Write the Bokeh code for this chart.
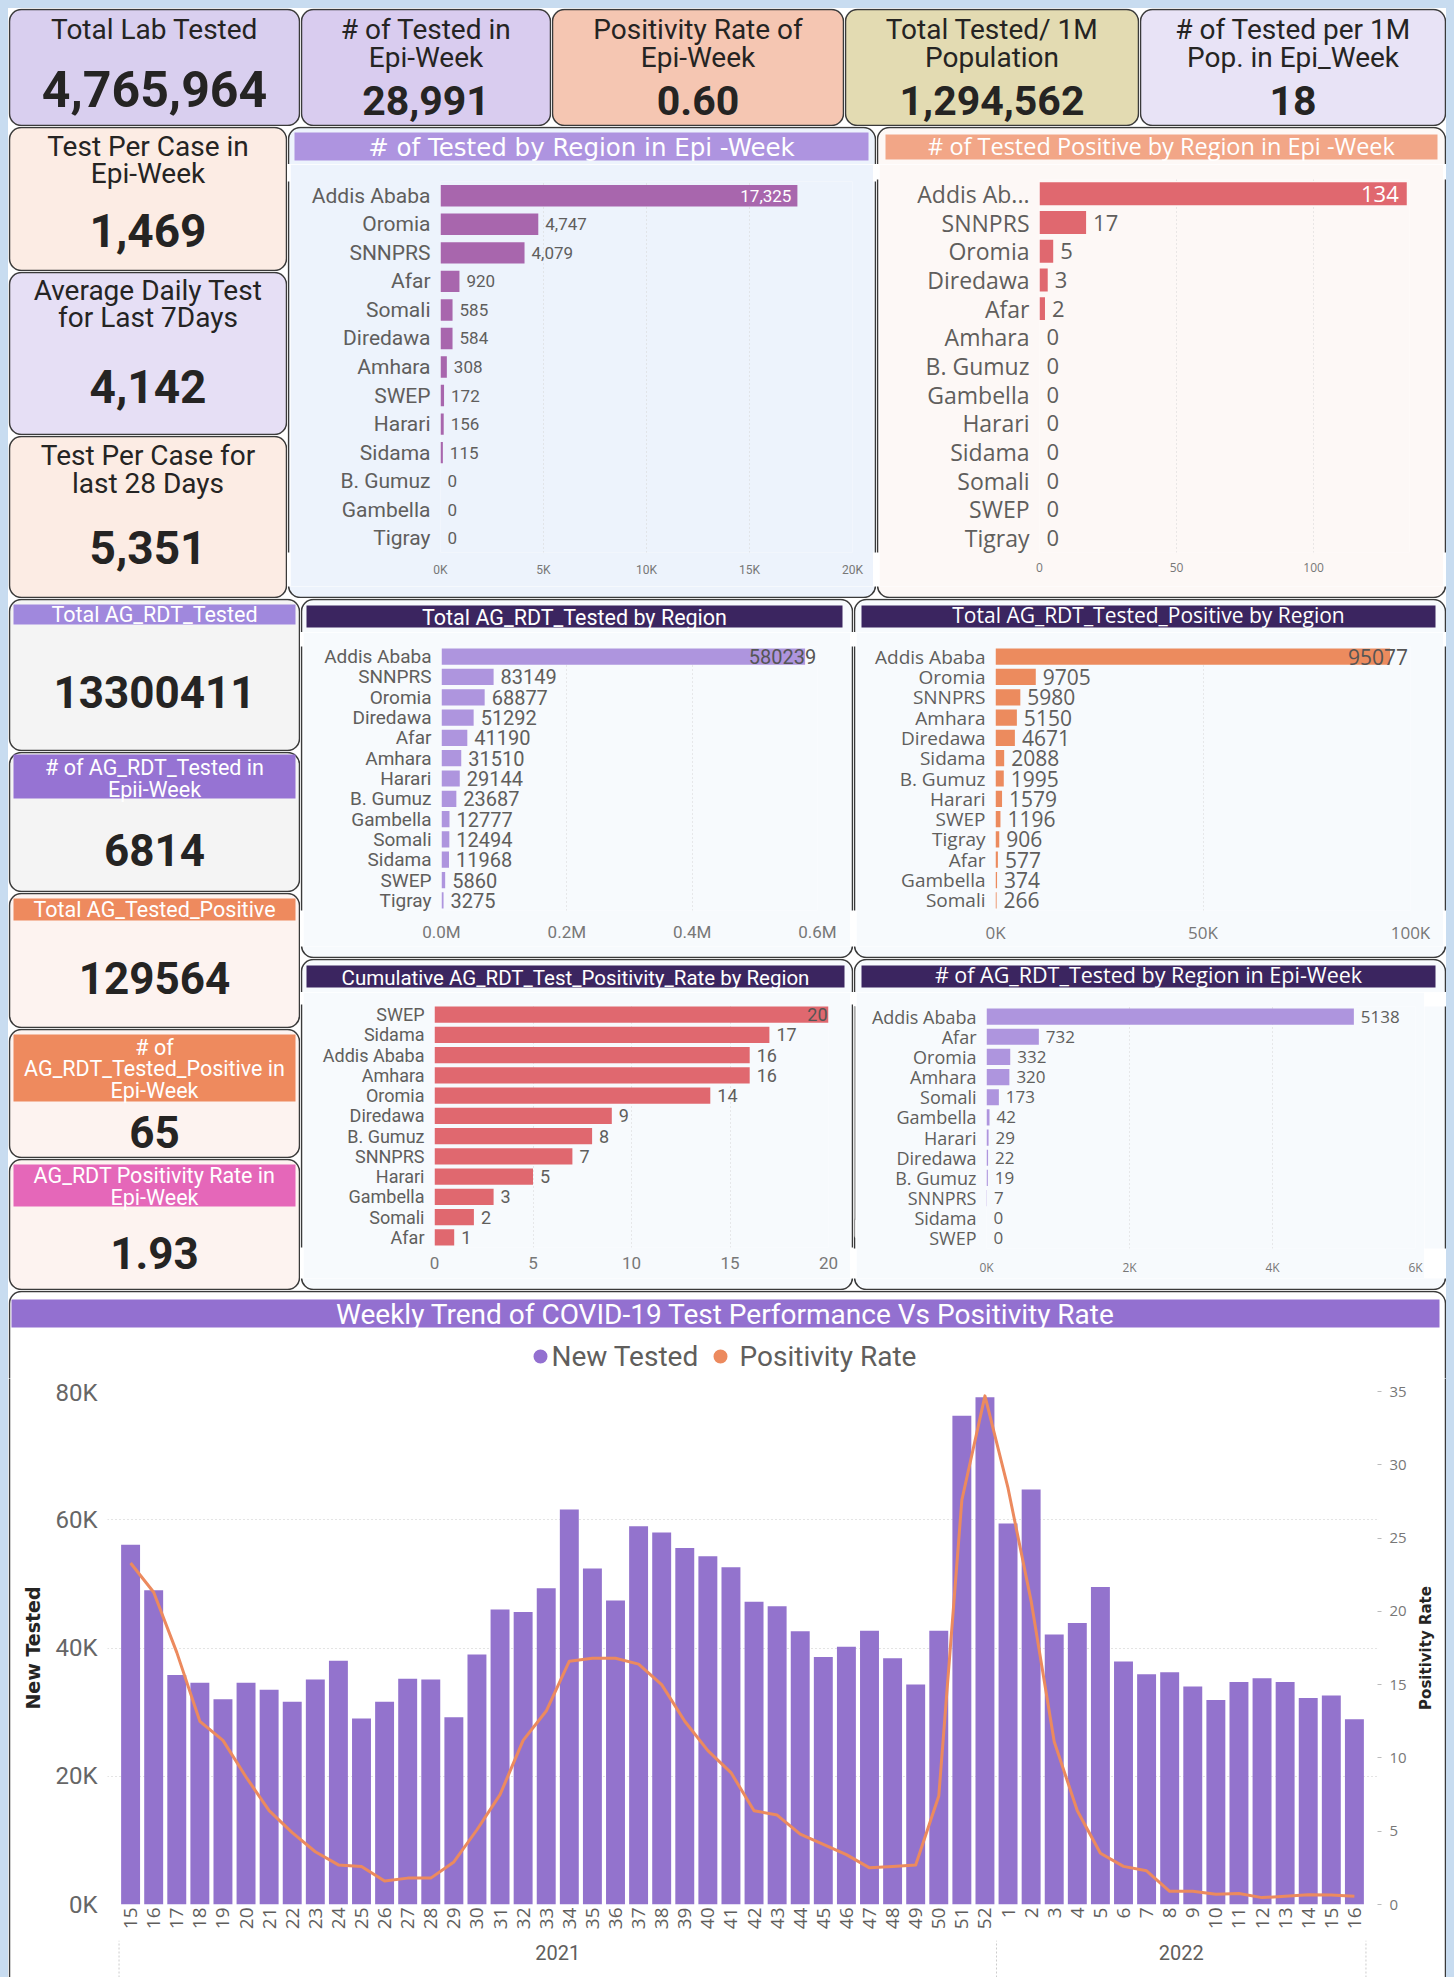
import math
from bokeh.plotting import figure
from bokeh.models import (Range1d, FactorRange, BoxAnnotation, Label, ColumnDataSource,
                          FixedTicker, LinearAxis, Spacer)
from bokeh.layouts import row, column
from bokeh.core.properties import value
from bokeh.embed import file_html
from bokeh.resources import INLINE

# ---------------- KPI cards ----------------
top_titles = [["Total Lab Tested"], ["# of Tested in", "Epi-Week"], ["Positivity Rate of", "Epi-Week"],
              ["Total Tested/ 1M", "Population"], ["# of Tested per 1M", "Pop. in Epi_Week"]]
top_values = ["4,765,964", "28,991", "0.60", "1,294,562", "18"]

left_titles = [["Test Per Case in", "Epi-Week"], ["Average Daily Test", "for Last 7Days"],
               ["Test Per Case for", "last 28 Days"]]
left_values = ["1,469", "4,142", "5,351"]

ag_titles = [["Total AG_RDT_Tested"], ["# of AG_RDT_Tested in", "Epii-Week"], ["Total AG_Tested_Positive"],
             ["# of", "AG_RDT_Tested_Positive in", "Epi-Week"], ["AG_RDT Positivity Rate in", "Epi-Week"]]
ag_values = ["13300411", "6814", "129564", "65", "1.93"]

# ---------------- region charts ----------------
tested_regions = ["Addis Ababa", "Oromia", "SNNPRS", "Afar", "Somali", "Diredawa", "Amhara", "SWEP",
                  "Harari", "Sidama", "B. Gumuz", "Gambella", "Tigray"]
tested_values = [17325, 4747, 4079, 920, 585, 584, 308, 172, 156, 115, 0, 0, 0]
tested_ticks = [0, 5000, 10000, 15000, 20000]
tested_tick_labels = ["0K", "5K", "10K", "15K", "20K"]

pos_regions = ["Addis Ab...", "SNNPRS", "Oromia", "Diredawa", "Afar", "Amhara", "B. Gumuz", "Gambella",
               "Harari", "Sidama", "Somali", "SWEP", "Tigray"]
pos_values = [134, 17, 5, 3, 2, 0, 0, 0, 0, 0, 0, 0, 0]
pos_ticks = [0, 50, 100]
pos_tick_labels = ["0", "50", "100"]

rdt_regions = ["Addis Ababa", "SNNPRS", "Oromia", "Diredawa", "Afar", "Amhara", "Harari", "B. Gumuz",
               "Gambella", "Somali", "Sidama", "SWEP", "Tigray"]
rdt_values = [580239, 83149, 68877, 51292, 41190, 31510, 29144, 23687, 12777, 12494, 11968, 5860, 3275]
rdt_ticks = [0, 200000, 400000, 600000]
rdt_tick_labels = ["0.0M", "0.2M", "0.4M", "0.6M"]

rdtpos_regions = ["Addis Ababa", "Oromia", "SNNPRS", "Amhara", "Diredawa", "Sidama", "B. Gumuz", "Harari",
                  "SWEP", "Tigray", "Afar", "Gambella", "Somali"]
rdtpos_values = [95077, 9705, 5980, 5150, 4671, 2088, 1995, 1579, 1196, 906, 577, 374, 266]
rdtpos_ticks = [0, 50000, 100000]
rdtpos_tick_labels = ["0K", "50K", "100K"]

rate_regions = ["SWEP", "Sidama", "Addis Ababa", "Amhara", "Oromia", "Diredawa", "B. Gumuz", "SNNPRS",
                "Harari", "Gambella", "Somali", "Afar"]
rate_values = [20, 17, 16, 16, 14, 9, 8, 7, 5, 3, 2, 1]
rate_ticks = [0, 5, 10, 15, 20]
rate_tick_labels = ["0", "5", "10", "15", "20"]

wk_regions = ["Addis Ababa", "Afar", "Oromia", "Amhara", "Somali", "Gambella", "Harari", "Diredawa",
              "B. Gumuz", "SNNPRS", "Sidama", "SWEP"]
wk_values = [5138, 732, 332, 320, 173, 42, 29, 22, 19, 7, 0, 0]
wk_ticks = [0, 2000, 4000, 6000]
wk_tick_labels = ["0K", "2K", "4K", "6K"]

# ---------------- weekly trend ----------------
year_labels = ["2021", "2022"]
weeks_2021 = ["15", "16", "17", "18", "19", "20", "21", "22", "23", "24", "25", "26", "27", "28", "29",
              "30", "31", "32", "33", "34", "35", "36", "37", "38", "39", "40", "41", "42", "43", "44",
              "45", "46", "47", "48", "49", "50", "51", "52"]
weeks_2022 = ["1", "2", "3", "4", "5", "6", "7", "8", "9", "10", "11", "12", "13", "14", "15", "16"]
new_tested_2021 = [56100, 49000, 35800, 34600, 32000, 34600, 33500, 31600, 35100, 38000, 29000, 31600,
                   35200, 35100, 29200, 39000, 46000, 45600, 49300, 61600, 52400, 47400, 59000, 58000,
                   55600, 54300, 52600, 47200, 46500, 42600, 38600, 40200, 42700, 38400, 34300, 42700,
                   76200, 79100]
new_tested_2022 = [59400, 64700, 42100, 43900, 49500, 37900, 35900, 36200, 34000, 31900, 34700, 35300,
                   34700, 32200, 32600, 28900]
pos_rate_2021 = [23.3, 21.3, 17.2, 12.5, 11.2, 8.7, 6.4, 4.9, 3.6, 2.7, 2.6, 1.6, 1.8, 1.8, 2.9, 5.1,
                 7.5, 11.2, 13.2, 16.6, 16.8, 16.8, 16.4, 15.0, 12.5, 10.5, 9.0, 6.4, 6.1, 4.8, 4.1, 3.4,
                 2.5, 2.6, 2.7, 7.4, 27.6, 34.7]
pos_rate_2022 = [28.4, 20.7, 11.1, 6.4, 3.5, 2.6, 2.3, 0.9, 0.9, 0.7, 0.75, 0.47, 0.56, 0.66, 0.64, 0.56]
tested_axis_ticks = [0, 20000, 40000, 60000, 80000]
tested_axis_labels = ["0K", "20K", "40K", "60K", "80K"]
rate_axis_ticks = [0, 5, 10, 15, 20, 25, 30, 35]

# ---------------- styling ----------------
DIN = "Roboto"
SEGOE = "Open Sans"
WIDE = "DejaVu Sans"
BORDER = "#3a3a3a"
TXT = "#252423"
GREY = "#605e5c"
DARK = "#3b2560"
PAGE_BG = "#c8dcf0"


def new_tile(w, h, **kw):
    p = figure(width=w, height=h, output_backend="svg", toolbar_location=None, **kw)
    p.border_fill_color = "white"
    p.background_fill_color = None
    p.outline_line_color = None
    return p


def canvas_fig(w, h):
    return new_tile(w, h, x_range=Range1d(0, w), y_range=Range1d(0, h), x_axis_type=None,
                    y_axis_type=None, min_border=0)


def cbox(p, l, t, r, b, fill, line=None, lw=1.5, radius=0, level="annotation"):
    p.add_layout(BoxAnnotation(left=l, right=r, top=t, bottom=b,
                               left_units="canvas", right_units="canvas",
                               top_units="canvas", bottom_units="canvas",
                               fill_color=fill, fill_alpha=1.0 if fill else 0.0,
                               line_color=line, line_alpha=1.0 if line else 0.0, line_width=lw,
                               border_radius=int(radius), level=level))


def ctext(p, x, y, text, font, size, color, style="normal", align="center", baseline="middle", angle=0.0):
    p.add_layout(Label(x=x, y=y, x_units="canvas", y_units="canvas", text=text, text_font=font,
                       text_font_size=f"{size}px", text_color=color, text_font_style=style,
                       text_align=align, text_baseline=baseline, angle=angle))


def kpi(w, h, fill, lines, line_ys, val, val_y, tsize, vsize, band=None, band_color=None, tcolor=TXT):
    p = canvas_fig(w, h)
    cbox(p, 1, 1, w - 1, h - 1, fill, BORDER, 1.5, 12, level="image")
    if band:
        cbox(p, band[0], band[1], band[2], band[3], band_color, None, 0, 0)
    for ln, y in zip(lines, line_ys):
        ctext(p, w / 2, y, ln, DIN, tsize, tcolor)
    ctext(p, w / 2, val_y, val, DIN, vsize, TXT, style="bold")
    return p


def panel(w, h, fill, hdr_h, ftr_h, lw, rw, chart_fn, band, band_color, title, title_font, title_size,
          title_dy=1):
    mid_h = h - hdr_h - ftr_h
    hdr = canvas_fig(w, hdr_h)
    cbox(hdr, 1, 1, w - 1, hdr_h + 30, fill, BORDER, 1.5, 12, level="image")
    cbox(hdr, band[0], band[1], band[2], band[3], band_color, None, 0, 0)
    ctext(hdr, (band[0] + band[2]) / 2, (band[1] + band[3]) / 2 + title_dy, title, title_font, title_size,
          "white")
    ls = canvas_fig(lw, mid_h)
    cbox(ls, 1, -30, lw + 30, mid_h + 30, fill, BORDER, 1.5, 0, level="image")
    rs = canvas_fig(rw, mid_h)
    cbox(rs, -30, -30, rw - 1, mid_h + 30, fill, BORDER, 1.5, 0, level="image")
    ch = chart_fn(w - lw - rw, mid_h)
    parts = [hdr, row(ls, ch, rs)]
    if ftr_h:
        ftr = canvas_fig(w, ftr_h)
        cbox(ftr, 1, -30, w - 1, ftr_h - 1, fill, BORDER, 1.5, 12, level="image")
        parts.append(ftr)
    return column(*parts), hdr, ls, rs, ch


def region_panel(w, h, frame, hdr_h, rw, cats, vals, labels, xmax, ticks, tick_labels, title, band,
                 band_color, title_font, title_size, panel_fill, bar_color, cat_font, cat_size, lbl_font,
                 lbl_size, tick_font, tick_size, tick_standoff, bar_h=0.8, inside_color=None,
                 inside_offset=0, lbl_color=GREY, title_dy=1):
    lw, ftr_h = 3, 12
    fl, ft, fr, fb = frame

    def build(cw, chh):
        p = new_tile(cw, chh, x_range=Range1d(0, xmax), y_range=FactorRange(factors=cats[::-1]),
                     min_border_left=fl - lw, min_border_right=(w - rw) - fr,
                     min_border_top=ft - hdr_h, min_border_bottom=(hdr_h + chh) - fb)
        p.border_fill_color = panel_fill
        p.background_fill_color = panel_fill
        src = ColumnDataSource(dict(cat=cats, val=vals))
        p.hbar(y="cat", left=0, right="val", height=bar_h, source=src, fill_color=bar_color, line_color=None)
        n_in = 1 if inside_color else 0
        out = ColumnDataSource(dict(cat=cats[n_in:], val=vals[n_in:], lbl=labels[n_in:]))
        p.text(x="val", y="cat", text="lbl", source=out, x_offset=7, text_align="left",
               text_baseline="middle", text_font=value(lbl_font), text_font_size=value(f"{lbl_size}px"),
               text_color=lbl_color)
        if n_in:
            ins = ColumnDataSource(dict(cat=cats[:1], val=vals[:1], lbl=labels[:1]))
            p.text(x="val", y="cat", text="lbl", source=ins, x_offset=inside_offset, text_align="right",
                   text_baseline="middle", text_font=value(lbl_font),
                   text_font_size=value(f"{lbl_size}px"), text_color=inside_color)
        ticker = FixedTicker(ticks=ticks)
        p.xaxis.ticker = ticker
        p.xgrid.ticker = ticker
        p.xaxis.major_label_overrides = dict(zip(ticks, tick_labels))
        p.xaxis.axis_line_color = None
        p.xaxis.major_tick_line_color = None
        p.xaxis.minor_tick_line_color = None
        p.xaxis.major_tick_out = 0
        p.xaxis.major_tick_in = 0
        p.xaxis.major_label_standoff = tick_standoff
        p.xaxis.major_label_text_font = tick_font
        p.xaxis.major_label_text_font_size = f"{tick_size}px"
        p.xaxis.major_label_text_color = "#777777"
        p.xgrid.grid_line_color = "#d4d4d4"
        p.xgrid.grid_line_dash = "1 3"
        p.ygrid.grid_line_color = None
        p.yaxis.axis_line_color = None
        p.yaxis.major_tick_line_color = None
        p.yaxis.major_tick_out = 0
        p.yaxis.major_tick_in = 0
        p.yaxis.major_label_standoff = 10
        p.yaxis.major_label_text_font = cat_font
        p.yaxis.major_label_text_font_size = f"{cat_size}px"
        p.yaxis.major_label_text_color = GREY
        return p

    return panel(w, h, panel_fill, hdr_h, ftr_h, lw, rw, build, band, band_color, title, title_font,
                 title_size, title_dy)


# ---------------- row 1 ----------------
top_w = [292, 251, 293, 295, 307]
top_fill = ["#d9cfef", "#d9ccef", "#f5c6b2", "#e3dbb2", "#e8e3f6"]
top_cards = []
for i in range(5):
    if i == 0:
        top_cards.append(kpi(top_w[i], 118, top_fill[i], top_titles[i], [21], top_values[i], 80, 28, 50))
    else:
        top_cards.append(kpi(top_w[i], 118, top_fill[i], top_titles[i], [21, 49], top_values[i], 92, 28, 41))

# ---------------- row 2 ----------------
left2_h = [145, 164, 163]
left2_fill = ["#fcece4", "#e6dff5", "#fcece4"]
left2_ty = [[20, 47], [19, 46], [20, 48]]
left2_vy = [104, 115, 112]
left2 = [kpi(279, left2_h[i], left2_fill[i], left_titles[i], left2_ty[i], left_values[i], left2_vy[i], 28, 46)
         for i in range(3)]

ch1 = region_panel(589, 472, (153, 55, 565, 426), 38, 3, tested_regions, tested_values,
                   [f"{v:,}" for v in tested_values], 20000, tested_ticks, tested_tick_labels,
                   "# of Tested by Region in Epi -Week", (7, 6, 581, 34), "#ae94e0", WIDE, 24.5,
                   "#edf3fc", "#a866ad", DIN, 21, DIN, 17, DIN, 12, 10, bar_h=0.75,
                   inside_color="white", inside_offset=-6)[0]
ch2 = region_panel(570, 472, (163, 53, 533, 426), 38, 3, pos_regions, pos_values,
                   [str(v) for v in pos_values], 135, pos_ticks, pos_tick_labels,
                   "# of Tested Positive by Region in Epi -Week", (9, 8, 561, 33), "#f2a687", SEGOE, 23.5,
                   "#fdf8f6", "#e0686f", SEGOE, 23, SEGOE, 22, SEGOE, 12, 10, bar_h=0.8,
                   inside_color="white", inside_offset=-8, title_dy=-1)[0]

# ---------------- row 3 ----------------
left3_h = [153, 141, 136, 130, 132]
left3_fill = ["#f4f4f4", "#f4f4f4", "#fdf3f0", "#fdf3f0", "#fdf3f0"]
left3_band = [(5, 6, 287, 26), (5, 3, 287, 47), (5, 6, 287, 28), (5, 6, 287, 73), (5, 6, 287, 48)]
left3_bc = ["#a088dd", "#9673d3", "#ee8a5e", "#ee8a5e", "#e567b9"]
left3_ty = [[16], [16, 38], [17], [19, 40, 62], [17, 39]]
left3_vy = [93, 98, 85, 103, 94]
left3 = [kpi(292, left3_h[i], left3_fill[i], ag_titles[i], left3_ty[i], ag_values[i], left3_vy[i], 21.5, 44,
             band=left3_band[i], band_color=left3_bc[i], tcolor="white") for i in range(5)]

ch3 = region_panel(553, 360, (141, 48, 517, 312), 34, 3, rdt_regions, rdt_values,
                   [str(v) for v in rdt_values], 600000, rdt_ticks, rdt_tick_labels,
                   "Total AG_RDT_Tested by Region", (6, 7, 542, 29), DARK, DIN, 21.5, "#f7fafd", "#ae95de",
                   DIN, 19, DIN, 20, DIN, 17, 11, inside_color="#555555", inside_offset=11)[0]
ch4 = region_panel(593, 360, (142, 48, 557, 312), 34, 3, rdtpos_regions, rdtpos_values,
                   [str(v) for v in rdtpos_values], 100000, rdtpos_ticks, rdtpos_tick_labels,
                   "Total AG_RDT_Tested_Positive by Region", (8, 7, 582, 29), DARK, SEGOE, 21, "#f7fafd",
                   "#ec8b5e", SEGOE, 19, SEGOE, 21, SEGOE, 17, 10, inside_color="#555555",
                   inside_offset=18, title_dy=-2)[0]
ch5 = region_panel(553, 332, (134, 46, 528, 289), 34, 3, rate_regions, rate_values,
                   [str(v) for v in rate_values], 20, rate_ticks, rate_tick_labels,
                   "Cumulative AG_RDT_Test_Positivity_Rate by Region", (6, 7, 544, 29), DARK, DIN, 20.5,
                   "#f7fafd", "#e0686f", DIN, 18, DIN, 18, DIN, 17, 9, inside_color="#555555",
                   inside_offset=-1)[0]
ch6_parts = region_panel(593, 332, (133, 48, 562, 295), 34, 22, wk_regions, wk_values,
                         [str(v) for v in wk_values], 6000, wk_ticks, wk_tick_labels,
                         "# of AG_RDT_Tested by Region in Epi-Week", (8, 7, 582, 29), DARK, SEGOE, 21.5,
                         "#f7fafd", "#ae95de", SEGOE, 18, SEGOE, 17, SEGOE, 12, 10, title_dy=-2)
ch6 = ch6_parts[0]
# scrollbar decoration (inside the right strip)
sb = ch6_parts[2]
cbox(sb, 1, 11, 6, 246, "#ececec", None, 0, 3)
cbox(sb, 1, 11, 6, 228, "#c4c4c4", None, 0, 3)

# ---------------- row 4: combo ----------------
CW, CH = 1438, 687
C_HDR, C_LW, C_RW = 88, 44, 34
C_CHART_BOTTOM = 650   # tile-relative bottom of the bar/line figure; year strip below
factors = [("2021", w) for w in weeks_2021] + [("2022", w) for w in weeks_2022]
trend = ColumnDataSource(dict(x=factors, tested=new_tested_2021 + new_tested_2022,
                              rate=pos_rate_2021 + pos_rate_2022))


def build_combo(cw, chh):
    ch_h = C_CHART_BOTTOM - C_HDR
    xr = FactorRange(*factors, group_padding=0, factor_padding=0, range_padding=0.5,
                     range_padding_units="absolute")
    p = new_tile(cw, ch_h, x_range=xr, y_range=Range1d(0, 80000),
                 min_border_left=98 - C_LW, min_border_right=(CW - C_RW) - 1369,
                 min_border_top=101 - C_HDR, min_border_bottom=(C_HDR + ch_h) - 614)
    p.background_fill_color = "white"
    p.extra_y_ranges = {"rate": Range1d(0, 35)}
    p.vbar(x="x", top="tested", width=0.82, source=trend, fill_color="#9373cd", line_color=None)
    p.line(x="x", y="rate", source=trend, y_range_name="rate", line_color="#ec8a5e", line_width=3,
           line_join="round")
    p.yaxis.ticker = FixedTicker(ticks=tested_axis_ticks)
    p.ygrid.ticker = FixedTicker(ticks=tested_axis_ticks[1:])
    p.yaxis.major_label_overrides = dict(zip(tested_axis_ticks, tested_axis_labels))
    p.yaxis.axis_line_color = None
    p.yaxis.major_tick_line_color = None
    p.yaxis.minor_tick_line_color = None
    p.yaxis.major_tick_out = 0
    p.yaxis.major_tick_in = 0
    p.yaxis.major_label_standoff = 10
    p.yaxis.major_label_text_font = DIN
    p.yaxis.major_label_text_font_size = "24px"
    p.yaxis.major_label_text_color = "#666666"
    p.ygrid.grid_line_color = "#c8c8c8"
    p.ygrid.grid_line_dash = "1 3"
    p.xgrid.grid_line_color = None

    raxis = LinearAxis(y_range_name="rate", ticker=FixedTicker(ticks=rate_axis_ticks))
    raxis.axis_line_color = None
    raxis.major_tick_line_color = "#bbbbbb"
    raxis.major_tick_out = 4
    raxis.major_tick_in = 0
    raxis.minor_tick_line_color = None
    raxis.major_label_standoff = 8
    raxis.major_label_text_font = SEGOE
    raxis.major_label_text_font_size = "15px"
    raxis.major_label_text_color = "#777777"
    p.add_layout(raxis, "right")

    xa = p.xaxis[0]
    xa.major_label_orientation = math.pi / 2
    xa.major_label_text_font = SEGOE
    xa.major_label_text_font_size = "19px"
    xa.major_label_text_color = GREY
    xa.major_label_standoff = 3
    xa.group_text_font_size = "1px"
    xa.group_text_alpha = 0.0
    xa.axis_line_color = None
    xa.major_tick_line_color = None
    xa.major_tick_out = 0
    xa.major_tick_in = 0
    xa.separator_line_color = None

    # year strip below: group labels and dotted group separators on the same factor range
    yh = chh - ch_h
    yf = new_tile(cw, yh, x_range=xr, y_range=Range1d(0, yh), x_axis_type=None, y_axis_type=None,
                  min_border_left=98 - C_LW, min_border_right=(CW - C_RW) - 1369,
                  min_border_top=0, min_border_bottom=0)
    yf.background_fill_color = "white"
    bounds = [("2021", weeks_2021[0], -0.5), ("2022", weeks_2022[0], -0.5), ("2022", weeks_2022[-1], 0.5)]
    yf.segment(x0=bounds, y0=[0] * 3, x1=bounds, y1=[yh] * 3, line_color="#cccccc", line_width=1,
               line_dash="2 2")
    ysrc = ColumnDataSource(dict(x=year_labels, y=[yh - 12] * 2, t=year_labels))
    yf.text(x="x", y="y", text="t", source=ysrc, text_align="center", text_baseline="middle",
            text_font=value(DIN), text_font_size=value("20px"), text_color=GREY)
    return column(p, yf)


combo, c_hdr, c_ls, c_rs, c_ch = panel(CW, CH, "white", C_HDR, 0, C_LW, C_RW, build_combo,
                                       (3, 9, 1431, 37), "#9370d0",
                                       "Weekly Trend of COVID-19 Test Performance Vs Positivity Rate", DIN, 28)
# legend
cbox(c_hdr, 525, 59, 539, 73, "#9370d0", None, 0, 7)
ctext(c_hdr, 543, 66, "New Tested", DIN, 28, GREY, align="left")
cbox(c_hdr, 705, 59, 719, 73, "#ec8a5e", None, 0, 7)
ctext(c_hdr, 731, 66, "Positivity Rate", DIN, 28, GREY, align="left")
# axis titles
mid_y = (101 + 614) / 2 - C_HDR
ctext(c_ls, 24, mid_y, "New Tested", WIDE, 19, TXT, style="bold", angle=math.pi / 2)
ctext(c_rs, 1417 - (CW - C_RW), mid_y, "Positivity Rate", WIDE, 15, TXT, style="bold", angle=math.pi / 2)

inner = column(
    row(*top_cards),
    row(column(*left2), ch1, ch2),
    row(column(*left3), column(row(ch3, ch4), row(ch5, ch6))),
    combo,
)

bg = {"background-color": PAGE_BG}
page = column(
    Spacer(width=1454, height=8, styles=bg),
    row(Spacer(width=8, height=1969, styles=bg), inner, Spacer(width=8, height=1969, styles=bg)),
)

open("out.html", "w").write(file_html(page, INLINE, title="COVID-19 Test Dashboard"))
